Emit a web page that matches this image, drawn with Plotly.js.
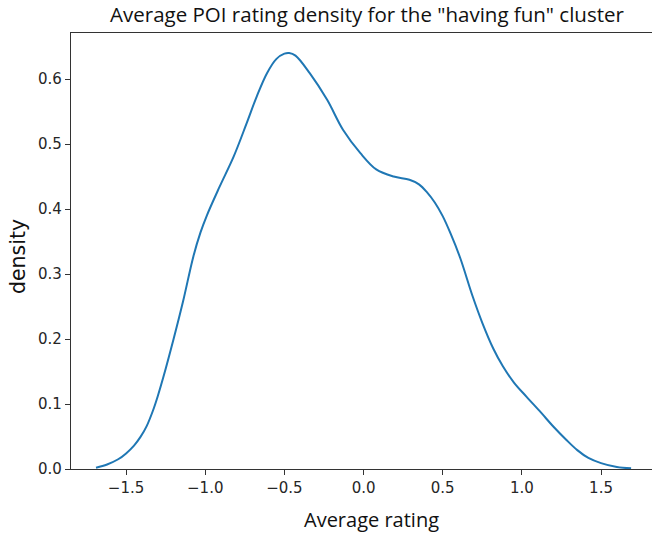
<!DOCTYPE html>
<html>
<head>
<meta charset="utf-8">
<script src="https://cdn.plot.ly/plotly-3.0.1.min.js"></script>
<style>html,body{margin:0;padding:0;background:#fff;overflow:hidden}#chart{width:652px;height:533px}</style>
</head>
<body>
<div id="chart"></div>
<script>
const ratingX = [-1.69, -1.62, -1.55, -1.50, -1.45, -1.41, -1.37, -1.33, -1.30, -1.265, -1.20, -1.14, -1.075, -1.03, -0.99, -0.91, -0.82, -0.74, -0.675, -0.61, -0.55, -0.50, -0.47, -0.43, -0.34, -0.23, -0.13, -0.02, 0.08, 0.19, 0.29, 0.35, 0.40, 0.45, 0.50, 0.55, 0.61, 0.69, 0.75, 0.82, 0.88, 0.95, 1.03, 1.12, 1.20, 1.28, 1.35, 1.42, 1.50, 1.60, 1.69];
const densityY = [0.002, 0.007, 0.015, 0.024, 0.036, 0.049, 0.066, 0.090, 0.112, 0.141, 0.200, 0.258, 0.327, 0.364, 0.390, 0.434, 0.481, 0.531, 0.573, 0.609, 0.631, 0.639, 0.640, 0.636, 0.609, 0.568, 0.522, 0.486, 0.461, 0.450, 0.445, 0.438, 0.426, 0.410, 0.389, 0.362, 0.325, 0.265, 0.225, 0.185, 0.158, 0.133, 0.111, 0.087, 0.065, 0.045, 0.029, 0.017, 0.009, 0.003, 0.001];
const xTicks = [-1.5, -1.0, -0.5, 0.0, 0.5, 1.0, 1.5];
const yTicks = [0.0, 0.1, 0.2, 0.3, 0.4, 0.5, 0.6];
const titleText = 'Average POI rating density for the "having fun" cluster';
const xLabel = 'Average rating';
const yLabel = 'density';

const tickFont = {family: 'DejaVu Sans', size: 15, color: '#262626'};
const data = [{
  x: ratingX, y: densityY, type: 'scatter', mode: 'lines',
  line: {color: '#1f77b4', width: 2, shape: 'spline', smoothing: 1},
  hoverinfo: 'skip'
}];
const layout = {
  width: 652, height: 533,
  margin: {l: 71, r: 0, t: 33, b: 64, pad: 0},
  paper_bgcolor: '#ffffff', plot_bgcolor: '#ffffff',
  showlegend: false,
  title: {text: titleText, font: {family: 'Open Sans', size: 20.5, color: '#111'},
          x: 367/652, xref: 'container', xanchor: 'center', y: 1 - 15/533, yref: 'container', yanchor: 'middle'},
  xaxis: {
    range: [-1.848, 1.822], tickvals: xTicks, ticktext: xTicks.map(v => (v < 0 ? '\u2212' : '') + Math.abs(v).toFixed(1)),
    showgrid: false, zeroline: false, showline: true, mirror: true, linecolor: '#333', linewidth: 1.2,
    ticks: 'outside', ticklen: 5, tickwidth: 1, tickcolor: '#333', tickfont: tickFont
  },
  yaxis: {
    range: [0, 0.6708], tickvals: yTicks, ticktext: yTicks.map(v => v.toFixed(1)),
    showgrid: false, zeroline: false, showline: true, mirror: false, linecolor: '#333', linewidth: 1.2,
    ticks: 'outside', ticklen: 5, tickwidth: 1, tickcolor: '#333', tickfont: tickFont
  },
  annotations: [
    {text: xLabel, xref: 'paper', yref: 'paper', x: (371 - 71) / 581, y: -(519 - 469) / 436,
     xanchor: 'center', yanchor: 'middle', showarrow: false,
     font: {family: 'Open Sans', size: 20, color: '#111'}},
    {text: yLabel, xref: 'paper', yref: 'paper', x: (18 - 71) / 581, y: (469 - 257) / 436,
     xanchor: 'center', yanchor: 'middle', showarrow: false, textangle: -90,
     font: {family: 'DejaVu Sans', size: 20.5, color: '#111'}}
  ]
};
Plotly.newPlot('chart', data, layout, {displayModeBar: false, staticPlot: true});
</script>
</body>
</html>
